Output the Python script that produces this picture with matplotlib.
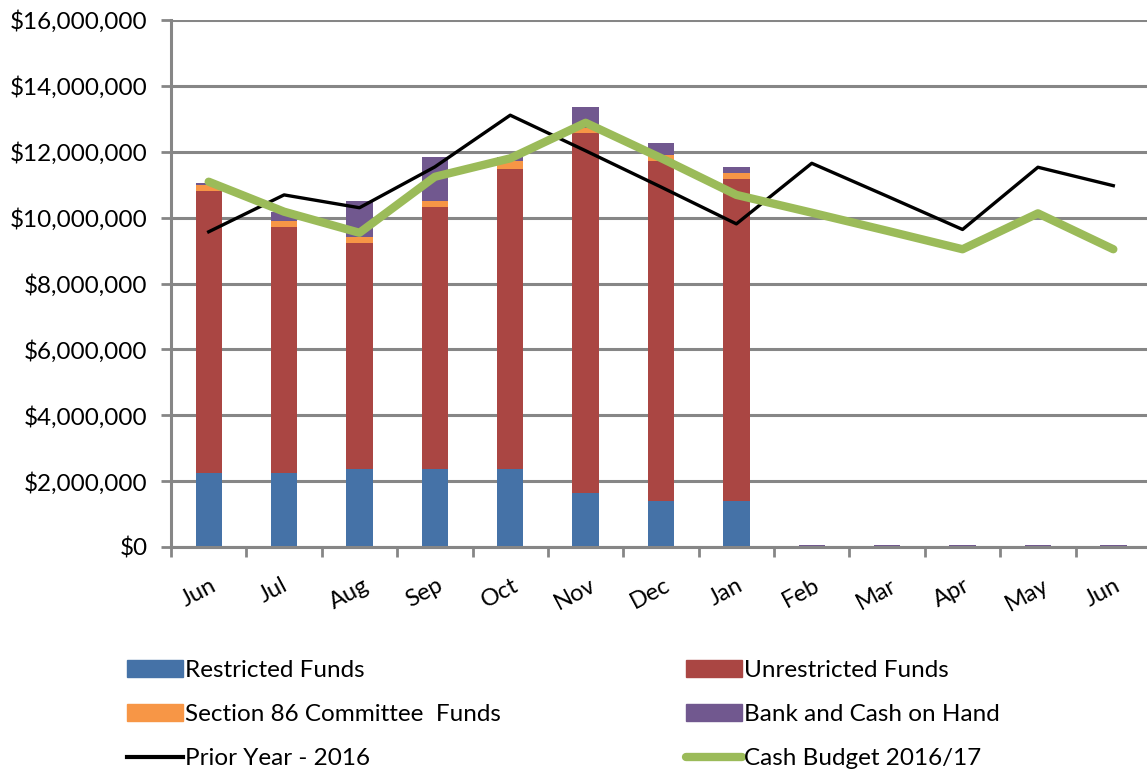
import matplotlib.pyplot as plt
import matplotlib.ticker as mticker
from matplotlib.patches import Patch
from matplotlib.lines import Line2D
import numpy as np

# data (dollars, millions)
months = ["Jun", "Jul", "Aug", "Sep", "Oct", "Nov", "Dec", "Jan",
          "Feb", "Mar", "Apr", "May", "Jun"]
restricted = [2.25, 2.25, 2.37, 2.37, 2.37, 1.64, 1.40, 1.40, 0, 0, 0, 0, 0]
unrestricted = [8.56, 7.46, 6.86, 7.95, 9.11, 10.93, 10.32, 9.77, 0, 0, 0, 0, 0]
section86 = [0.18, 0.19, 0.18, 0.18, 0.24, 0.15, 0.18, 0.18, 0, 0, 0, 0, 0]
bank_cash = [0.06, 0.27, 1.09, 1.34, 0.12, 0.64, 0.36, 0.19,
             0.05, 0.05, 0.05, 0.05, 0.05]
prior_year = [9.57, 10.69, 10.30, 11.54, 13.11, 12.03, 10.93, 9.81,
              11.65, 10.65, 9.64, 11.53, 10.97]
cash_budget = [11.09, 10.18, 9.54, 11.24, 11.80, 12.88, 11.81, 10.69,
               10.15, 9.60, 9.04, 10.13, 9.04]

plt.rcParams['font.family'] = ['Lato', 'DejaVu Sans']

c_blue = "#4572A7"
c_red = "#AA4643"
c_orange = "#F79646"
c_purple = "#71588F"
c_black = "#000000"
c_green = "#9BBB59"
c_grid = "#868686"

fig = plt.figure(figsize=(11.47, 7.69), dpi=100)
ax = fig.add_axes([171 / 1147, 222 / 769, 980 / 1147, 527 / 769])

x = np.arange(len(months))
w = 0.35
M = 1e6
r = np.array(restricted) * M
u = np.array(unrestricted) * M
s = np.array(section86) * M
b = np.array(bank_cash) * M

ax.bar(x, r, w, color=c_blue, zorder=3)
ax.bar(x, u, w, bottom=r, color=c_red, zorder=3)
ax.bar(x, s, w, bottom=r + u, color=c_orange, zorder=3)
ax.bar(x, b, w, bottom=r + u + s, color=c_purple, zorder=3)
ax.plot(x, np.array(prior_year) * M, color=c_black, lw=2.4, zorder=4)
ax.plot(x, np.array(cash_budget) * M, color=c_green, lw=6, zorder=5,
        solid_capstyle='round')

ax.set_xlim(-0.5, len(months) - 0.5)
ax.set_ylim(0, 16e6)
ax.yaxis.set_major_locator(mticker.MultipleLocator(2e6))
ax.yaxis.set_major_formatter(mticker.FuncFormatter(lambda v, p: "${:,.0f}".format(v)))
ax.grid(axis='y', color=c_grid, lw=2.2, zorder=0)

# boundary ticks are the major ones; labels sit on invisible minor ticks,
# nudged a little left like the rotated labels in the original
ax.set_xticks(np.arange(-0.5, len(months), 1.0))
ax.set_xticklabels([])
ax.set_xticks(x - 0.14, minor=True)
ax.set_xticklabels(months, minor=True, rotation=28, ha='center', fontsize=17)
ax.tick_params(axis='x', which='minor', length=0, pad=20)
ax.tick_params(axis='x', which='major', length=7, width=2, color=c_grid)
ax.tick_params(axis='y', length=7, width=2, color=c_grid, pad=10, labelsize=17.5)

for side in ['top', 'right']:
    ax.spines[side].set_visible(False)
for side in ['left', 'bottom']:
    ax.spines[side].set_color(c_grid)
    ax.spines[side].set_linewidth(2.2)
ax.spines['left'].set_zorder(6)
ax.spines['bottom'].set_zorder(6)

h1 = [Patch(color=c_blue, label="Restricted Funds"),
      Patch(color=c_orange, label="Section 86 Committee  Funds"),
      Line2D([], [], color=c_black, lw=3, label="Prior Year - 2016")]
h2 = [Patch(color=c_red, label="Unrestricted Funds"),
      Patch(color=c_purple, label="Bank and Cash on Hand"),
      Line2D([], [], color=c_green, lw=6, label="Cash Budget 2016/17",
             solid_capstyle='round')]
leg_kw = dict(loc='upper left', frameon=False, fontsize=17.5, borderpad=0,
              borderaxespad=0, handlelength=2.3, handleheight=0.7,
              handletextpad=0.08, labelspacing=0.95)
fig.legend(handles=h1, bbox_to_anchor=(127 / 1147, 1 - 660 / 769), **leg_kw)
fig.legend(handles=h2, bbox_to_anchor=(686 / 1147, 1 - 660 / 769), **leg_kw)

fig.savefig("out.png", dpi=100)
